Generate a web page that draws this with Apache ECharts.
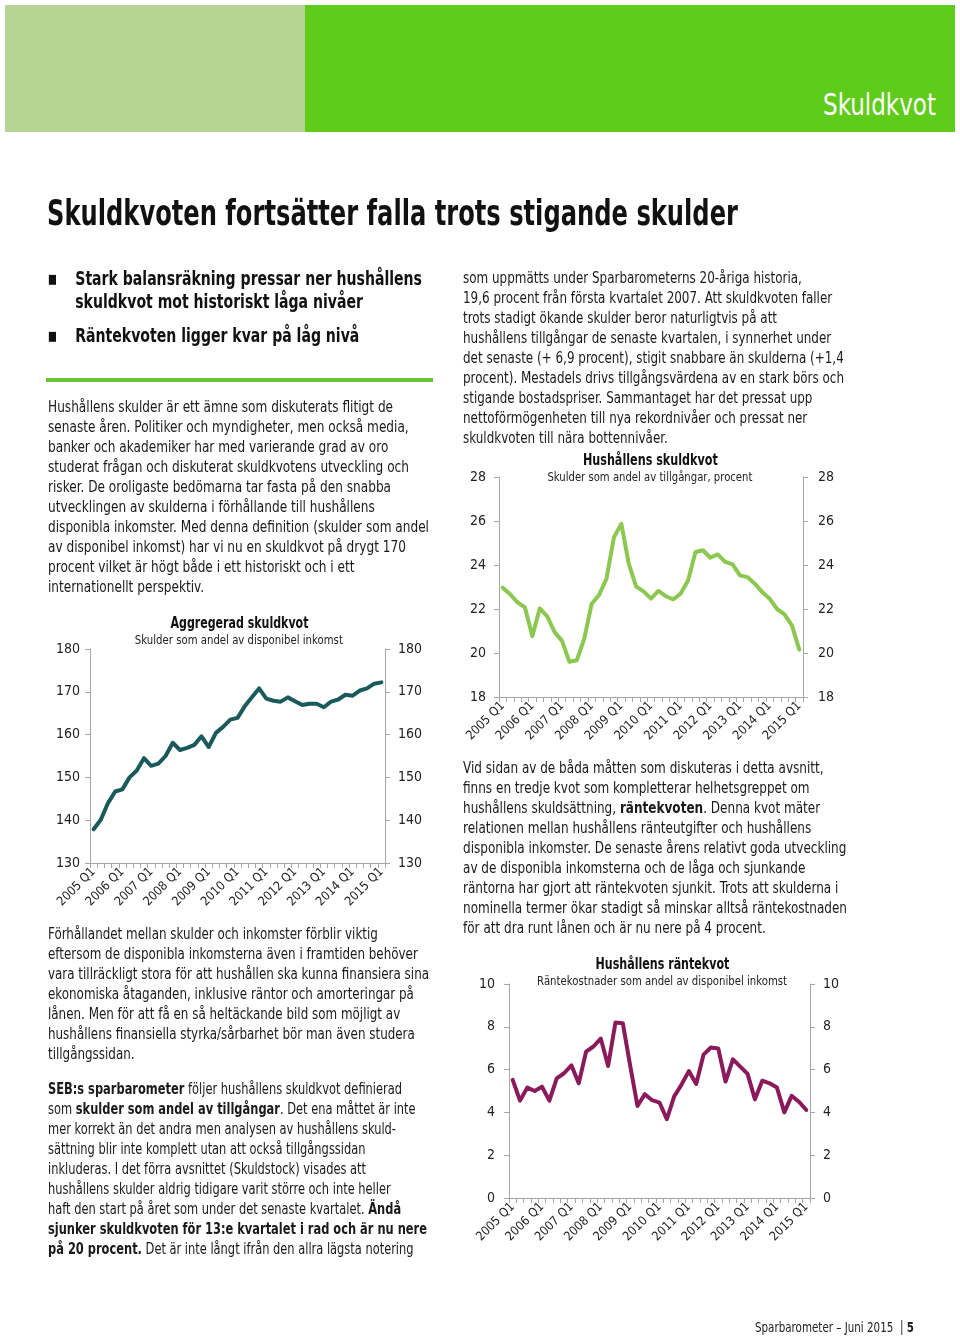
<!DOCTYPE html>
<html>
<head>
<meta charset="utf-8">
<script src="https://cdn.jsdelivr.net/npm/echarts@6/dist/echarts.min.js"></script>
<style>
  html, body { margin:0; padding:0; background:#fff; }
  body { width:960px; height:1336px; position:relative; overflow:hidden;
         font-family:'Liberation Sans Narrow','DejaVu Sans Condensed','Roboto Condensed','Noto Sans',sans-serif; font-stretch:condensed; color:#1a1a1a; }
  #chart { position:absolute; left:0; top:0; width:960px; height:1336px; z-index:0; }
  .abs { position:absolute; z-index:2; white-space:nowrap; }
  .para { font-size:15.5px; line-height:20px; }
  .ctitle { font-size:15px; line-height:18px; font-weight:bold; color:#111; }
  .csub { font-size:13px; line-height:16px; color:#222; }
  b { font-weight:bold; }
</style>
</head>
<body>
<div id="chart"></div>

<div class="abs" style="left:5px;top:5px;width:300px;height:127px;background:#b5d392;"></div>
<div class="abs" style="left:305px;top:5px;width:650px;height:127px;background:#5fcb1a;"></div>
<div class="abs fit" data-w="113" data-x="823" style="left:823px;top:86px;color:#fff;font-size:31px;line-height:36px;">Skuldkvot</div>

<div class="abs fit" data-w="691" data-x="47" style="left:47px;top:192px;font-size:35px;line-height:42px;font-weight:bold;color:#111;">Skuldkvoten fortsätter falla trots stigande skulder</div>

<div class="abs fit" data-w="374" data-x="48" style="left:48px;top:267px;font-size:19.5px;line-height:23px;font-weight:bold;color:#111;">
  <div style="position:relative;padding-left:34px;"><span style="position:absolute;left:0;top:0;font-size:13px;">■</span>Stark balansräkning pressar ner hushållens<br>skuldkvot mot historiskt låga nivåer</div>
  <div style="position:relative;padding-left:34px;margin-top:11px;"><span style="position:absolute;left:0;top:0;font-size:13px;">■</span>Räntekvoten ligger kvar på låg nivå</div>
</div>

<div class="abs" style="left:46px;top:378px;width:387px;height:4px;background:#6cc433;"></div>

<div class="abs para fit" data-w="381" data-x="48" style="left:48px;top:397px;">
Hushållens skulder är ett ämne som diskuterats flitigt de<br>
senaste åren. Politiker och myndigheter, men också media,<br>
banker och akademiker har med varierande grad av oro<br>
studerat frågan och diskuterat skuldkvotens utveckling och<br>
risker. De oroligaste bedömarna tar fasta på den snabba<br>
utvecklingen av skulderna i förhållande till hushållens<br>
disponibla inkomster. Med denna definition (skulder som andel<br>
av disponibel inkomst) har vi nu en skuldkvot på drygt 170<br>
procent vilket är högt både i ett historiskt och i ett<br>
internationellt perspektiv.
</div>

<div class="abs para fit" data-w="381" data-x="48" style="left:48px;top:924px;">
Förhållandet mellan skulder och inkomster förblir viktig<br>
eftersom de disponibla inkomsterna även i framtiden behöver<br>
vara tillräckligt stora för att hushållen ska kunna finansiera sina<br>
ekonomiska åtaganden, inklusive räntor och amorteringar på<br>
lånen. Men för att få en så heltäckande bild som möjligt av<br>
hushållens finansiella styrka/sårbarhet bör man även studera<br>
tillgångssidan.
</div>

<div class="abs para fit" data-w="379" data-x="48" style="left:48px;top:1079px;">
<b>SEB:s sparbarometer</b> följer hushållens skuldkvot definierad<br>
som <b>skulder som andel av tillgångar</b>. Det ena måttet är inte<br>
mer korrekt än det andra men analysen av hushållens skuld-<br>
sättning blir inte komplett utan att också tillgångssidan<br>
inkluderas. I det förra avsnittet (Skuldstock) visades att<br>
hushållens skulder aldrig tidigare varit större och inte heller<br>
haft den start på året som under det senaste kvartalet. <b>Ändå</b><br>
<b>sjunker skuldkvoten för 13:e kvartalet i rad och är nu nere</b><br>
<b>på 20 procent.</b> Det är inte långt ifrån den allra lägsta notering
</div>

<div class="abs para fit" data-w="381" data-x="463" style="left:463px;top:268px;">
som uppmätts under Sparbarometerns 20-åriga historia,<br>
19,6 procent från första kvartalet 2007. Att skuldkvoten faller<br>
trots stadigt ökande skulder beror naturligtvis på att<br>
hushållens tillgångar de senaste kvartalen, i synnerhet under<br>
det senaste (+ 6,9 procent), stigit snabbare än skulderna (+1,4<br>
procent). Mestadels drivs tillgångsvärdena av en stark börs och<br>
stigande bostadspriser. Sammantaget har det pressat upp<br>
nettoförmögenheten till nya rekordnivåer och pressat ner<br>
skuldkvoten till nära bottennivåer.
</div>

<div class="abs para fit" data-w="384" data-x="463" style="left:463px;top:758px;">
Vid sidan av de båda måtten som diskuteras i detta avsnitt,<br>
finns en tredje kvot som kompletterar helhetsgreppet om<br>
hushållens skuldsättning, <b>räntekvoten</b>. Denna kvot mäter<br>
relationen mellan hushållens ränteutgifter och hushållens<br>
disponibla inkomster. De senaste årens relativt goda utveckling<br>
av de disponibla inkomsterna och de låga och sjunkande<br>
räntorna har gjort att räntekvoten sjunkit. Trots att skulderna i<br>
nominella termer ökar stadigt så minskar alltså räntekostnaden<br>
för att dra runt lånen och är nu nere på 4 procent.
</div>

<!-- chart titles (centred) -->
<div class="abs ctitle fitc" data-w="138" data-c="239" style="top:614px;">Aggregerad skuldkvot</div>
<div class="abs csub fitc" data-w="208" data-c="239" style="top:632px;">Skulder som andel av disponibel inkomst</div>
<div class="abs ctitle fitc" data-w="135" data-c="650" style="top:451px;">Hushållens skuldkvot</div>
<div class="abs csub fitc" data-w="205" data-c="650" style="top:469px;">Skulder som andel av tillgångar, procent</div>
<div class="abs ctitle fitc" data-w="134" data-c="662" style="top:955px;">Hushållens räntekvot</div>
<div class="abs csub fitc" data-w="250" data-c="662" style="top:973px;">Räntekostnader som andel av disponibel inkomst</div>

<div class="abs fit" data-w="159" data-x="755" style="left:755px;top:1318px;font-size:13.5px;line-height:18px;color:#222;">Sparbarometer – Juni 2015 <span style="display:inline-block;width:1px;height:15px;background:#222;vertical-align:-3px;margin:0 5px 0 6px;"></span><b>5</b></div>

<script>
// Quarterly categories
var categories = [
  "2005 Q1","2005 Q2","2005 Q3","2005 Q4",
  "2006 Q1","2006 Q2","2006 Q3","2006 Q4",
  "2007 Q1","2007 Q2","2007 Q3","2007 Q4",
  "2008 Q1","2008 Q2","2008 Q3","2008 Q4",
  "2009 Q1","2009 Q2","2009 Q3","2009 Q4",
  "2010 Q1","2010 Q2","2010 Q3","2010 Q4",
  "2011 Q1","2011 Q2","2011 Q3","2011 Q4",
  "2012 Q1","2012 Q2","2012 Q3","2012 Q4",
  "2013 Q1","2013 Q2","2013 Q3","2013 Q4",
  "2014 Q1","2014 Q2","2014 Q3","2014 Q4",
  "2015 Q1"
];

// Aggregerad skuldkvot (skulder som andel av disponibel inkomst)
var aggregeradSkuldkvot = [
  137.9,140.1,144.0,146.7,147.2,150.0,151.6,154.5,152.7,153.2,
  155.0,158.1,156.4,156.9,157.6,159.6,157.1,160.4,161.8,163.5,
  163.9,166.6,168.7,170.8,168.4,167.9,167.7,168.7,167.8,166.9,
  167.2,167.2,166.4,167.7,168.2,169.3,169.1,170.3,170.8,171.9,
  172.2
];

// Hushållens skuldkvot (skulder som andel av tillgångar, procent)
var hushallensSkuldkvot = [
  22.97,22.67,22.30,22.07,20.76,22.03,21.67,20.95,20.55,19.60,
  19.67,20.65,22.24,22.64,23.38,25.26,25.87,24.06,23.02,22.80,
  22.47,22.82,22.58,22.44,22.70,23.30,24.59,24.67,24.33,24.48,
  24.14,24.03,23.53,23.45,23.15,22.77,22.47,22.00,21.76,21.26,
  20.15
];

// Hushållens räntekvot (räntekostnader som andel av disponibel inkomst)
var rantekvot = [
  5.52,4.55,5.16,5.00,5.20,4.55,5.59,5.83,6.20,5.36,
  6.84,7.08,7.45,6.17,8.20,8.17,6.20,4.30,4.85,4.57,
  4.46,3.68,4.75,5.30,5.93,5.33,6.70,7.03,6.99,5.44,
  6.48,6.14,5.80,4.61,5.48,5.36,5.16,4.00,4.77,4.50,
  4.11
];

var yRanges = [[130,180,10],[18,28,2],[0,10,2]];
var lineColors = ["#1a5a5c", "#8cc850", "#8a1a5c"];
var seriesData = [aggregeradSkuldkvot, hushallensSkuldkvot, rantekvot];

var FONT = "'Liberation Sans Narrow','DejaVu Sans Condensed','Roboto Condensed','Noto Sans',sans-serif";
var grids = [
  {left:90, top:649, width:295, height:214},
  {left:499, top:477, width:304, height:220},
  {left:509, top:984, width:301, height:214}
];
var yMargins = [[10,13],[13,15],[14,13]];

var chart = echarts.init(document.getElementById('chart'), null, {renderer:'canvas'});
var axisCol = '#a6a6a6';
var option = {
  animation:false,
  grid: grids.map(function(g){ return {left:g.left, top:g.top, width:g.width, height:g.height}; }),
  xAxis: grids.map(function(g,i){
    return {
      type:'category', gridIndex:i, data:categories, boundaryGap:true,
      axisLine:{show:true, lineStyle:{color:axisCol, width:1}},
      axisTick:{show:true, interval:0, length:5, lineStyle:{color:axisCol}},
      axisLabel:{interval:3, rotate:45, fontFamily:FONT, fontSize:12.5, color:'#222', margin:7}
    };
  }),
  yAxis: [],
  series: []
};
grids.forEach(function(g,i){
  ['left','right'].forEach(function(pos,k){
    option.yAxis.push({
      type:'value', gridIndex:i, position:pos, min:yRanges[i][0], max:yRanges[i][1], interval:yRanges[i][2],
      axisLine:{show:true, lineStyle:{color:axisCol, width:1}},
      axisTick:{show:true, length:5, lineStyle:{color:axisCol}},
      splitLine:{show:false},
      axisLabel:{fontFamily:FONT, fontSize:14, color:'#222', margin:yMargins[i][k]}
    });
  });
  option.series.push({
    type:'line', xAxisIndex:i, yAxisIndex:i*2, data:seriesData[i],
    showSymbol:false, symbol:'none', smooth:false,
    lineStyle:{color:lineColors[i], width:4, cap:'round', join:'round'}
  });
});
chart.setOption(option);

function fitAll(){
  document.querySelectorAll('.fit').forEach(function(el){
    el.style.transform='none';
    var w = el.getBoundingClientRect().width;
    var t = parseFloat(el.getAttribute('data-w'));
    el.style.transformOrigin='left top';
    el.style.transform='scaleX('+(t/w)+')';
  });
  document.querySelectorAll('.fitc').forEach(function(el){
    el.style.transform='none';
    var w = el.getBoundingClientRect().width;
    var t = parseFloat(el.getAttribute('data-w'));
    var c = parseFloat(el.getAttribute('data-c'));
    el.style.left = (c - w/2) + 'px';
    el.style.transformOrigin='center top';
    el.style.transform='scaleX('+(t/w)+')';
  });
}
fitAll();
if (document.fonts && document.fonts.ready) document.fonts.ready.then(fitAll);
</script>
</body>
</html>
